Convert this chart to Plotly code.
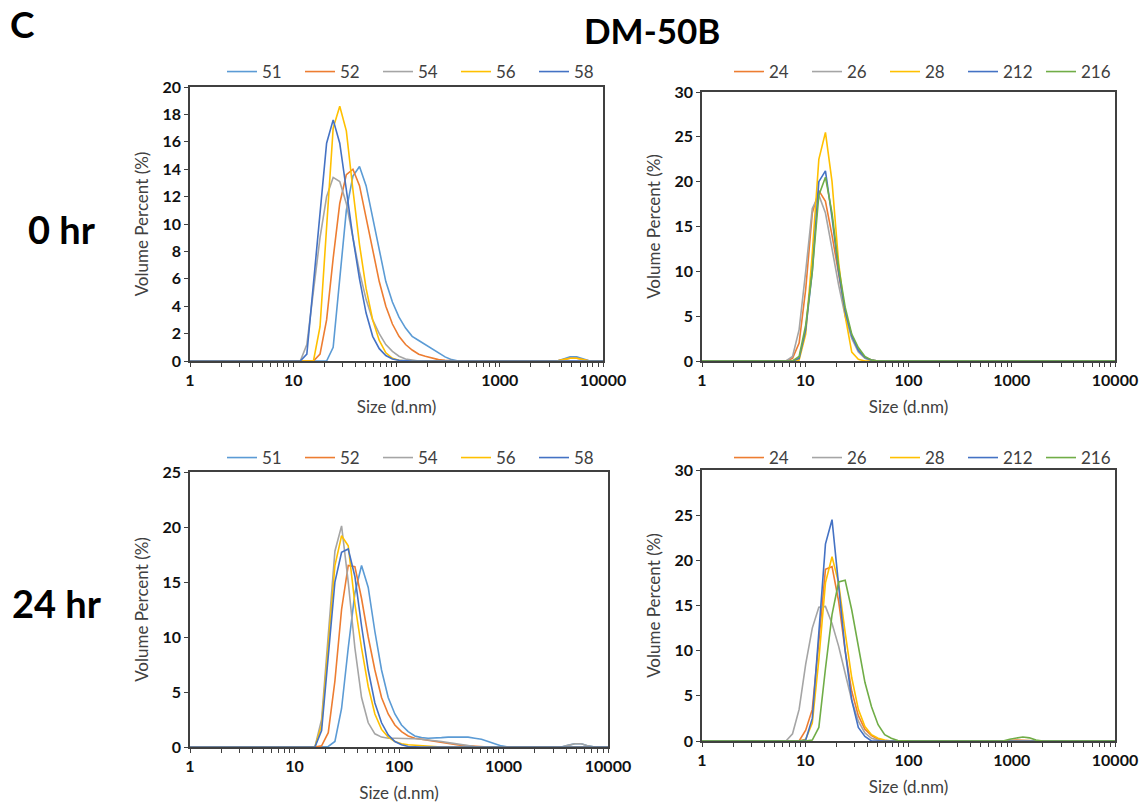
import plotly.graph_objects as go

# Standard DLS size bins (d.nm)
sizes = [0.9649, 1.117, 1.294, 1.499, 1.736, 2.01, 2.328, 2.696, 3.122, 3.615, 4.187, 4.849,
         5.615, 6.503, 7.531, 8.721, 10.1, 11.7, 13.54, 15.69, 18.17, 21.04, 24.36, 28.21,
         32.67, 37.84, 43.82, 50.75, 58.77, 68.06, 78.82, 91.28, 105.7, 122.4, 141.8, 164.2,
         190.1, 220.2, 255.0, 295.3, 342.0, 396.1, 458.7, 531.2, 615.1, 712.4, 825.0, 955.4,
         1106, 1281, 1484, 1718, 1990, 2305, 2669, 3091, 3580, 4145, 4801, 5560, 6439, 7456,
         8635, 10000]

# Each series: list of (start size, [values from that bin on]) segments; zero elsewhere
labels_5 = ["51", "52", "54", "56", "58"]
labels_2 = ["24", "26", "28", "212", "216"]
colors_5 = ["#5B9BD5", "#ED7D31", "#A5A5A5", "#FFC000", "#4472C4"]
colors_2 = ["#ED7D31", "#A5A5A5", "#FFC000", "#4472C4", "#70AD47"]

# 0 hr, 5x series
h0_51 = [(21.04, [0, 1, 6, 11, 13.5, 14.2, 12.8, 10.5, 8, 5.8, 4.3, 3.2, 2.4, 1.8, 1.5, 1.2, 0.9, 0.6, 0.3, 0.1, 0]),
         (3580, [0, 0.15, 0.3, 0.3, 0.15, 0])]
h0_52 = [(15.69, [0, 0.5, 3, 7.5, 11.5, 13.6, 14.0, 12.8, 10.5, 8, 5.8, 4, 2.7, 1.8, 1.2, 0.8, 0.5, 0.35, 0.2, 0.1, 0.05, 0]),
         (3580, [0, 0.1, 0.2, 0.2, 0.1, 0])]
h0_54 = [(11.7, [0, 1.2, 5, 9, 12, 13.4, 13.1, 11.5, 9, 6.5, 4.5, 3, 2, 1.2, 0.7, 0.35, 0.15, 0.05, 0])]
h0_56 = [(15.69, [0, 2.5, 10, 17, 18.6, 16.8, 12.5, 8.5, 5.3, 3, 1.5, 0.6, 0.2, 0.05, 0]),
         (3580, [0, 0.1, 0.2, 0.2, 0.1, 0])]
h0_58 = [(11.7, [0, 0.5, 5.5, 11, 15.9, 17.6, 15.9, 12.5, 9, 6, 3.5, 1.8, 0.9, 0.4, 0.15, 0.05, 0])]

# 0 hr, 2x series
h0_24 = [(6.503, [0, 0.3, 2, 8, 16.5, 19, 17.8, 14, 9.5, 5.5, 2.8, 1.2, 0.4, 0.1, 0])]
h0_26 = [(6.503, [0, 0.5, 3.5, 10, 17, 18.5, 16.5, 12.5, 8.5, 5, 2.5, 1, 0.3, 0])]
h0_28 = [(7.531, [0, 0.1, 3, 12, 22.5, 25.5, 20, 11, 5, 1, 0.2, 0])]
h0_212 = [(7.531, [0, 0.3, 3.5, 10, 20, 21.2, 16, 10, 5.5, 2.8, 1.2, 0.4, 0.1, 0])]
h0_216 = [(7.531, [0, 0.5, 4, 10, 18.5, 20.5, 16.5, 10.5, 6, 3, 1.5, 0.5, 0.1, 0])]

# 24 hr, 5x series
h24_51 = [(21.04, [0.05, 0.5, 3.5, 9, 14, 16.5, 14.5, 10.5, 7, 4.5, 3, 2, 1.4, 1.0, 0.85, 0.8, 0.8,
                   0.85, 0.9, 0.9, 0.95, 0.9, 0.8, 0.7, 0.5, 0.3, 0.1, 0]),
          (3580, [0, 0.15, 0.3, 0.3, 0.1, 0])]
h24_52 = [(15.69, [0, 0.1, 1.3, 6, 12.5, 16.5, 16.4, 13.5, 10, 7, 4.5, 3, 2, 1.4, 1.0, 0.8, 0.7,
                   0.6, 0.55, 0.45, 0.35, 0.25, 0.15, 0.1, 0.05, 0])]
h24_54 = [(15.69, [0, 2.5, 10, 17.8, 20.1, 15, 9, 4.5, 2.2, 1.2, 0.9, 0.8, 0.8, 0.8, 0.8, 0.75,
                   0.7, 0.65, 0.6, 0.5, 0.4, 0.3, 0.2, 0.1, 0.05, 0]),
          (3580, [0, 0.15, 0.3, 0.3, 0.1, 0])]
h24_56 = [(15.69, [0, 2, 9, 16.5, 19.2, 18.3, 13, 9, 5.5, 3, 1.6, 0.9, 0.5, 0.3, 0.2, 0.15, 0.1,
                   0.08, 0.05, 0])]
h24_58 = [(15.69, [0, 1.5, 8, 15, 17.7, 18.0, 15.5, 11, 7, 4, 2.2, 1.1, 0.5, 0.2, 0.05, 0])]

# 24 hr, 2x series
h24_24 = [(8.721, [0, 1.2, 3.5, 11, 19, 19.3, 15.5, 10, 5.5, 2.8, 1.3, 0.6, 0.2, 0]),
          (825.0, [0, 0.05, 0.1, 0.1, 0.05, 0])]
h24_26 = [(6.503, [0, 0.8, 3.5, 8.5, 12.5, 14.8, 14.9, 13, 10.5, 7.5, 4.5, 2.2, 0.9, 0.3, 0.1, 0])]
h24_28 = [(8.721, [0, 0.2, 2, 9, 17.5, 20.4, 17.5, 12, 7, 3.5, 1.6, 0.7, 0.3, 0.1, 0])]
h24_212 = [(8.721, [0, 0.1, 2.5, 12, 21.8, 24.5, 17, 10, 4.5, 1.5, 0.5, 0])]
h24_216 = [(10.1, [0, 0.1, 1.5, 8, 14, 17.6, 17.8, 14.5, 10.5, 6.5, 3.8, 1.8, 0.7, 0.3, 0.05, 0]),
           (825.0, [0, 0.2, 0.35, 0.45, 0.35, 0.1, 0])]

panels = [
    dict(labels=labels_5, colors=colors_5, data=[h0_51, h0_52, h0_54, h0_56, h0_58],
         ymax=20, dy=2, xd=[190, 603], yd=[87, 361], leg_x=230, leg_y=72),
    dict(labels=labels_2, colors=colors_2, data=[h0_24, h0_26, h0_28, h0_212, h0_216],
         ymax=30, dy=5, xd=[702, 1115], yd=[92, 361], leg_x=737, leg_y=72),
    dict(labels=labels_5, colors=colors_5, data=[h24_51, h24_52, h24_54, h24_56, h24_58],
         ymax=25, dy=5, xd=[190, 608], yd=[472, 747], leg_x=230, leg_y=458),
    dict(labels=labels_2, colors=colors_2, data=[h24_24, h24_26, h24_28, h24_212, h24_216],
         ymax=30, dy=5, xd=[702, 1115], yd=[470, 741], leg_x=737, leg_y=458),
]

W, H = 1140, 812
FONT = "Lato"
AX = "#404040"


def series_values(segments):
    vals = [0.0] * len(sizes)
    for start, seg in segments:
        i0 = sizes.index(start)
        for k, v in enumerate(seg):
            vals[i0 + k] = v
    return vals


fig = go.Figure()
layout = {}
for p_i, p in enumerate(panels):
    n = "" if p_i == 0 else str(p_i + 1)
    leg = "legend" + n
    for lab, col, seg in zip(p["labels"], p["colors"], p["data"]):
        fig.add_trace(go.Scatter(
            x=sizes, y=series_values(seg), mode="lines", name=lab,
            line=dict(color=col, width=1.6), xaxis="x" + n, yaxis="y" + n,
            legend=leg))
    xdom = [p["xd"][0] / W, p["xd"][1] / W]
    ydom = [1 - p["yd"][1] / H, 1 - p["yd"][0] / H]
    layout["xaxis" + n] = dict(
        type="log", range=[0, 4], domain=xdom, anchor="y" + n, automargin=False,
        tickvals=[1, 10, 100, 1000, 10000], ticktext=["1", "10", "100", "1000", "10000"],
        ticks="outside", ticklen=4, tickcolor=AX, tickwidth=1.3,
        minor=dict(ticks="outside", ticklen=4, tickcolor=AX, dtick="D1", showgrid=False),
        showline=True, linecolor=AX, linewidth=1.6, mirror=True,
        showgrid=False, zeroline=False,
        tickfont=dict(family=FONT, size=16, color="#111111", weight="bold"),
        title=dict(text="Size (d.nm)", font=dict(family=FONT, size=17, color=AX), standoff=13),
    )
    layout["yaxis" + n] = dict(
        range=[0, p["ymax"]], domain=ydom, anchor="x" + n, dtick=p["dy"], automargin=False,
        ticks="outside", ticklen=4, tickcolor=AX,
        showline=True, linecolor=AX, linewidth=1.6, mirror=True,
        showgrid=False, zeroline=False,
        tickfont=dict(family=FONT, size=16, color="#111111", weight="bold"),
        title=dict(text="Volume Percent (%)", font=dict(family=FONT, size=17, color=AX), standoff=9),
    )
    layout[leg] = dict(
        orientation="h", x=(p["leg_x"] - 8) / W, xanchor="left",
        y=1 - p["leg_y"] / H, yanchor="middle",
        font=dict(family=FONT, size=17, color=AX),
        itemwidth=30, entrywidth=33, entrywidthmode="pixels",
        bgcolor="rgba(0,0,0,0)", tracegroupgap=0,
    )

fig.update_layout(**layout)
fig.update_layout(
    width=W, height=H, margin=dict(l=0, r=0, t=0, b=0, autoexpand=False),
    paper_bgcolor="white", plot_bgcolor="white", showlegend=True,
    annotations=[
        dict(text="<b>C</b>", x=22 / W, y=1 - 24 / H, xref="paper", yref="paper",
             xanchor="center", yanchor="middle", showarrow=False,
             font=dict(family=FONT, size=37, color="black")),
        dict(text="<b>DM-50B</b>", x=652 / W, y=1 - 30 / H, xref="paper", yref="paper",
             xanchor="center", yanchor="middle", showarrow=False,
             font=dict(family=FONT, size=35, color="black")),
        dict(text="<b>0 hr</b>", x=62 / W, y=1 - 229 / H, xref="paper", yref="paper",
             xanchor="center", yanchor="middle", showarrow=False,
             font=dict(family=FONT, size=38, color="black")),
        dict(text="<b>24 hr</b>", x=57 / W, y=1 - 603 / H, xref="paper", yref="paper",
             xanchor="center", yanchor="middle", showarrow=False,
             font=dict(family=FONT, size=38, color="black")),
    ],
)

fig.write_html("out.html")
